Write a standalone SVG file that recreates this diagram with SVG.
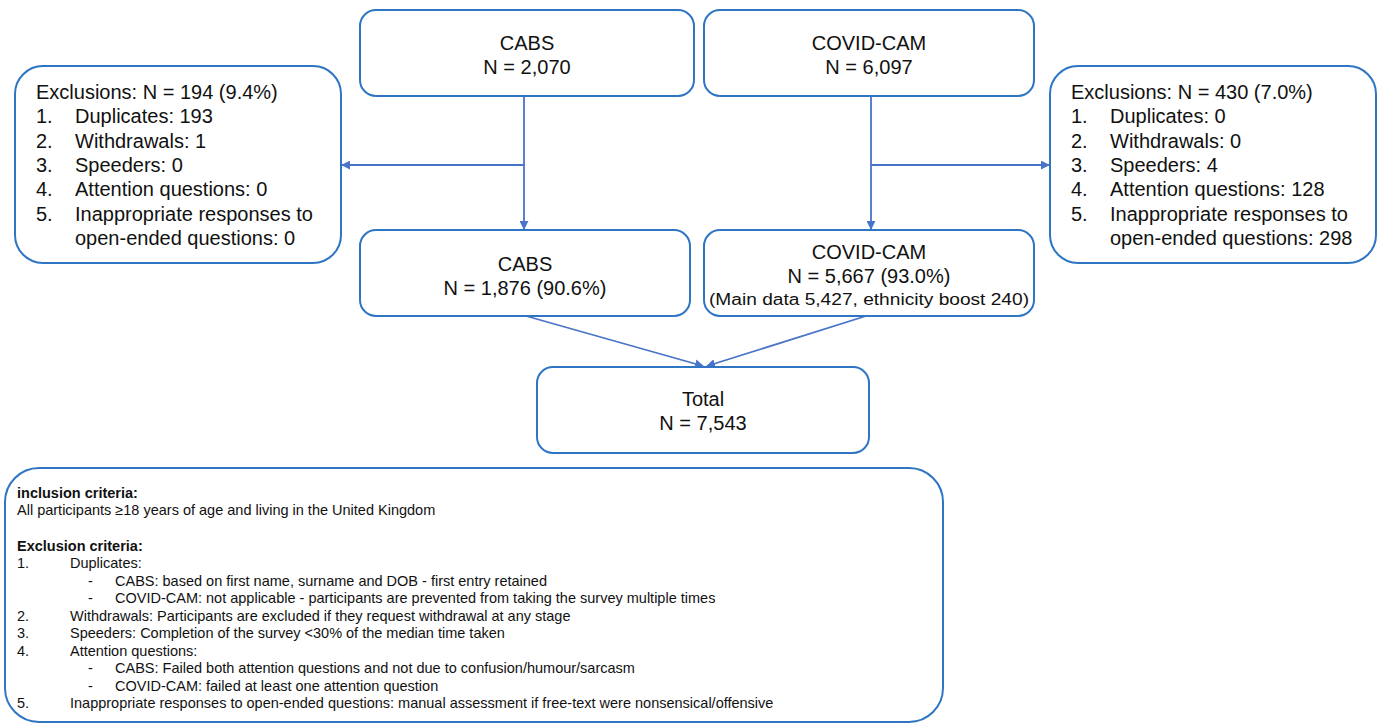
<svg xmlns="http://www.w3.org/2000/svg" width="1379" height="725" viewBox="0 0 1379 725">
<defs>
<style>
.box{fill:#fff;stroke:#2e75c4;stroke-width:2}
.t{font-family:"Liberation Sans",Arial,sans-serif;font-size:20px;fill:#111}
.c{text-anchor:middle}
.s{font-size:16px}
.b{font-family:"Liberation Sans",Arial,sans-serif;font-size:14.5px;fill:#111}
.bb{font-weight:bold}
.ln{stroke:#4a74c9;stroke-width:1.8;fill:none}
</style>
<marker id="ah" viewBox="0 0 10 10" refX="9" refY="5" markerWidth="5" markerHeight="5" orient="auto">
<path d="M0,0 L10,5 L0,10 z" fill="#4a74c9"/>
</marker>
</defs>
<rect width="1379" height="725" fill="#fff"/>
<g id="connectors">
<path class="ln" d="M524,96 V229" marker-end="url(#ah)"/>
<path class="ln" d="M524,165 H342" marker-end="url(#ah)"/>
<path class="ln" d="M871,96 V229" marker-end="url(#ah)"/>
<path class="ln" d="M871,165 H1049" marker-end="url(#ah)"/>
<path class="ln" d="M526,316 L703,366" marker-end="url(#ah)"/>
<path class="ln" d="M866,316 L707,366" marker-end="url(#ah)"/>
</g>
<g id="cabs-start">
<rect class="box" x="360" y="10" width="334" height="86" rx="16"/>
<text class="t c" x="527" y="50">CABS</text>
<text class="t c" x="527" y="74">N = 2,070</text>
</g>
<g id="covid-start">
<rect class="box" x="704" y="10" width="330" height="86" rx="16"/>
<text class="t c" x="869" y="50">COVID-CAM</text>
<text class="t c" x="869" y="74">N = 6,097</text>
</g>
<g id="cabs-excl">
<rect class="box" x="15" y="66" width="326" height="197" rx="28"/>
<text class="t" x="36" y="99">Exclusions: N = 194 (9.4%)</text>
<text class="t" x="36" y="123">1.</text><text class="t" x="75" y="123">Duplicates: 193</text>
<text class="t" x="36" y="148">2.</text><text class="t" x="75" y="148">Withdrawals: 1</text>
<text class="t" x="36" y="172">3.</text><text class="t" x="75" y="172">Speeders: 0</text>
<text class="t" x="36" y="196">4.</text><text class="t" x="75" y="196">Attention questions: 0</text>
<text class="t" x="36" y="221">5.</text><text class="t" x="75" y="221">Inappropriate responses to</text>
<text class="t" x="75" y="245">open-ended questions: 0</text>
</g>
<g id="covid-excl">
<rect class="box" x="1050" y="66" width="326" height="197" rx="28"/>
<text class="t" x="1071" y="99">Exclusions: N = 430 (7.0%)</text>
<text class="t" x="1071" y="123">1.</text><text class="t" x="1110" y="123">Duplicates: 0</text>
<text class="t" x="1071" y="148">2.</text><text class="t" x="1110" y="148">Withdrawals: 0</text>
<text class="t" x="1071" y="172">3.</text><text class="t" x="1110" y="172">Speeders: 4</text>
<text class="t" x="1071" y="196">4.</text><text class="t" x="1110" y="196">Attention questions: 128</text>
<text class="t" x="1071" y="221">5.</text><text class="t" x="1110" y="221">Inappropriate responses to</text>
<text class="t" x="1110" y="245">open-ended questions: 298</text>
</g>
<g id="cabs-final">
<rect class="box" x="360" y="230" width="330" height="86" rx="16"/>
<text class="t c" x="525" y="271">CABS</text>
<text class="t c" x="525" y="295">N = 1,876 (90.6%)</text>
</g>
<g id="covid-final">
<rect class="box" x="704" y="230" width="330" height="86" rx="16"/>
<text class="t c" x="869" y="259">COVID-CAM</text>
<text class="t c" x="869" y="283">N = 5,667 (93.0%)</text>
<text class="t c s" x="869" y="305" textLength="320" lengthAdjust="spacingAndGlyphs">(Main data 5,427, ethnicity boost 240)</text>
</g>
<g id="total">
<rect class="box" x="537" y="367" width="332" height="86" rx="16"/>
<text class="t c" x="703" y="406">Total</text>
<text class="t c" x="703" y="430">N = 7,543</text>
</g>
<g id="criteria">
<rect class="box" x="5" y="468" width="938" height="254" rx="34"/>
<text class="b bb" x="17" y="498">inclusion criteria:</text>
<text class="b" x="17" y="515">All participants ≥18 years of age and living in the United Kingdom</text>
<text class="b bb" x="17" y="551">Exclusion criteria:</text>
<text class="b" x="17" y="568">1.</text><text class="b" x="70" y="568">Duplicates:</text>
<text class="b" x="88" y="586">-</text><text class="b" x="115" y="586">CABS: based on first name, surname and DOB - first entry retained</text>
<text class="b" x="88" y="603">-</text><text class="b" x="115" y="603">COVID-CAM: not applicable - participants are prevented from taking the survey multiple times</text>
<text class="b" x="17" y="621">2.</text><text class="b" x="70" y="621">Withdrawals: Participants are excluded if they request withdrawal at any stage</text>
<text class="b" x="17" y="638">3.</text><text class="b" x="70" y="638">Speeders: Completion of the survey &lt;30% of the median time taken</text>
<text class="b" x="17" y="656">4.</text><text class="b" x="70" y="656">Attention questions:</text>
<text class="b" x="88" y="673">-</text><text class="b" x="115" y="673">CABS: Failed both attention questions and not due to confusion/humour/sarcasm</text>
<text class="b" x="88" y="691">-</text><text class="b" x="115" y="691">COVID-CAM: failed at least one attention question</text>
<text class="b" x="17" y="708">5.</text><text class="b" x="70" y="708">Inappropriate responses to open-ended questions: manual assessment if free-text were nonsensical/offensive</text>
</g>
</svg>
